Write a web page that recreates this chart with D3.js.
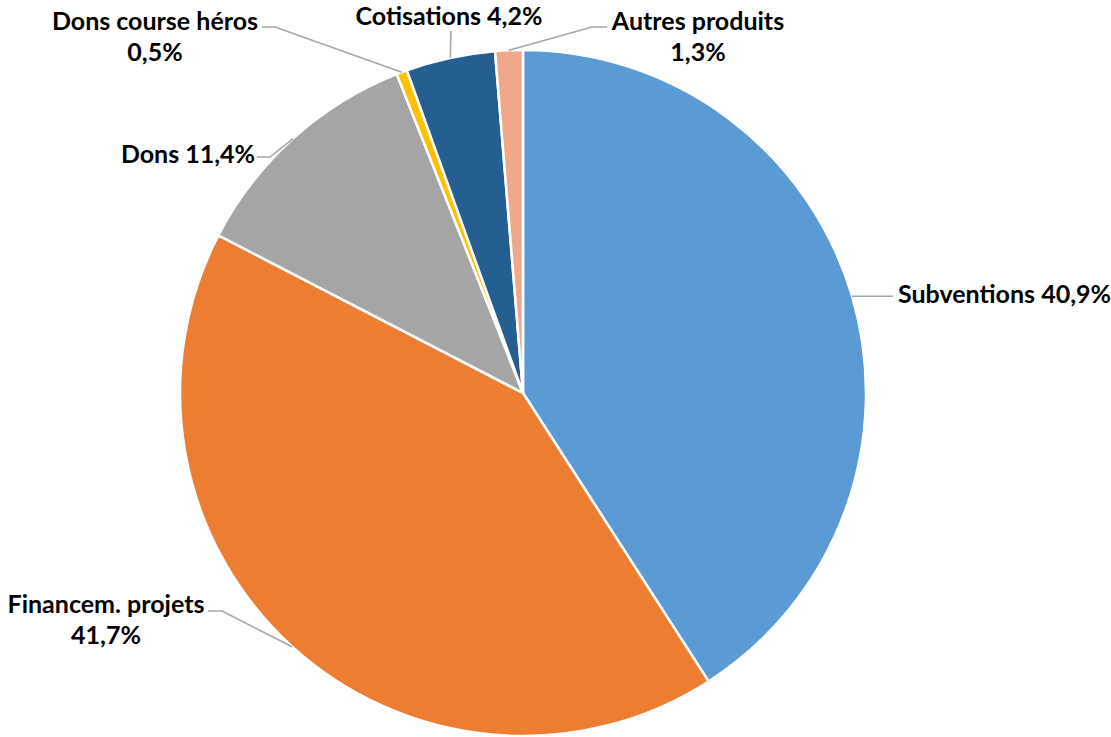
<!DOCTYPE html>
<html>
<head>
<meta charset="utf-8">
<script src="https://cdn.jsdelivr.net/npm/d3@7"></script>
<style>
  html, body { margin: 0; padding: 0; background: #ffffff; }
  svg { display: block; }
  text { font-family: Lato, "Open Sans", sans-serif; font-weight: bold; fill: #000; }
</style>
</head>
<body>
<svg id="chart" width="1111" height="737"></svg>
<script>
// ---- Data ----
const categories = ["Subventions", "Financem. projets", "Dons", "Dons course héros", "Cotisations", "Autres produits"];
const values = [40.9, 41.7, 11.4, 0.5, 4.2, 1.3];
const labelLines = [
  ["Subventions 40,9%"],
  ["Financem. projets", "41,7%"],
  ["Dons 11,4%"],
  ["Dons course héros", "0,5%"],
  ["Cotisations 4,2%"],
  ["Autres produits", "1,3%"]
];
const colors = ["#5B9BD5", "#ED7D31", "#A5A5A5", "#FFC000", "#255E91", "#F1A78A"];

// ---- Label layout (manual placement as in the original) ----
const labelLayout = [
  { x: 898, y: 294, anchor: "start", leader: [[893, null]] },
  { x: 106, y: 604, anchor: "middle", leader: [[222, 611], [208, 611]] },
  { x: 188, y: 154, anchor: "middle", leader: [[270, 157], [257, 157]] },
  { x: 155, y: 21, anchor: "middle", leader: [[275, 27], [262, 27]] },
  { x: 449, y: 16, anchor: "middle", leader: [[451, 31]] },
  { x: 698, y: 21, anchor: "middle", leader: [[592, 27], [607, 27]] }
];

const width = 1111, height = 737;
const cx = 523, cy = 393, radius = 343;
const fontSize = 25, lineGap = 31;

const svg = d3.select("#chart");
const g = svg.append("g").attr("transform", `translate(${cx},${cy})`);

const data = categories.map((c, i) => ({ name: c, value: values[i], i }));
const pie = d3.pie().sort(null).value(d => d.value);
const arcs = pie(data);
const arc = d3.arc().innerRadius(0).outerRadius(radius);
const edgeArc = d3.arc().innerRadius(radius).outerRadius(radius);

g.selectAll("path.slice")
  .data(arcs)
  .join("path")
  .attr("class", "slice")
  .attr("d", arc)
  .attr("fill", d => colors[d.data.i])
  .attr("stroke", "#ffffff")
  .attr("stroke-width", 2.5)
  .attr("stroke-linejoin", "round");

// Leader lines
const line = d3.line();
arcs.forEach(d => {
  const [px, py] = edgeArc.centroid(d);
  const start = [cx + px, cy + py];
  const lay = labelLayout[d.data.i];
  const pts = [start].concat(lay.leader.map(p => [p[0], p[1] === null ? start[1] : p[1]]));
  svg.append("path")
    .attr("d", line(pts))
    .attr("fill", "none")
    .attr("stroke", "#A6A6A6")
    .attr("stroke-width", 1.6);
});

// Labels
arcs.forEach(d => {
  const lay = labelLayout[d.data.i];
  const t = svg.append("text")
    .attr("text-anchor", lay.anchor)
    .attr("font-size", fontSize);
  labelLines[d.data.i].forEach((s, k) => {
    t.append("tspan")
      .attr("x", lay.x)
      .attr("y", lay.y + k * lineGap)
      .attr("dy", "0.35em")
      .text(s);
  });
});
</script>
</body>
</html>
